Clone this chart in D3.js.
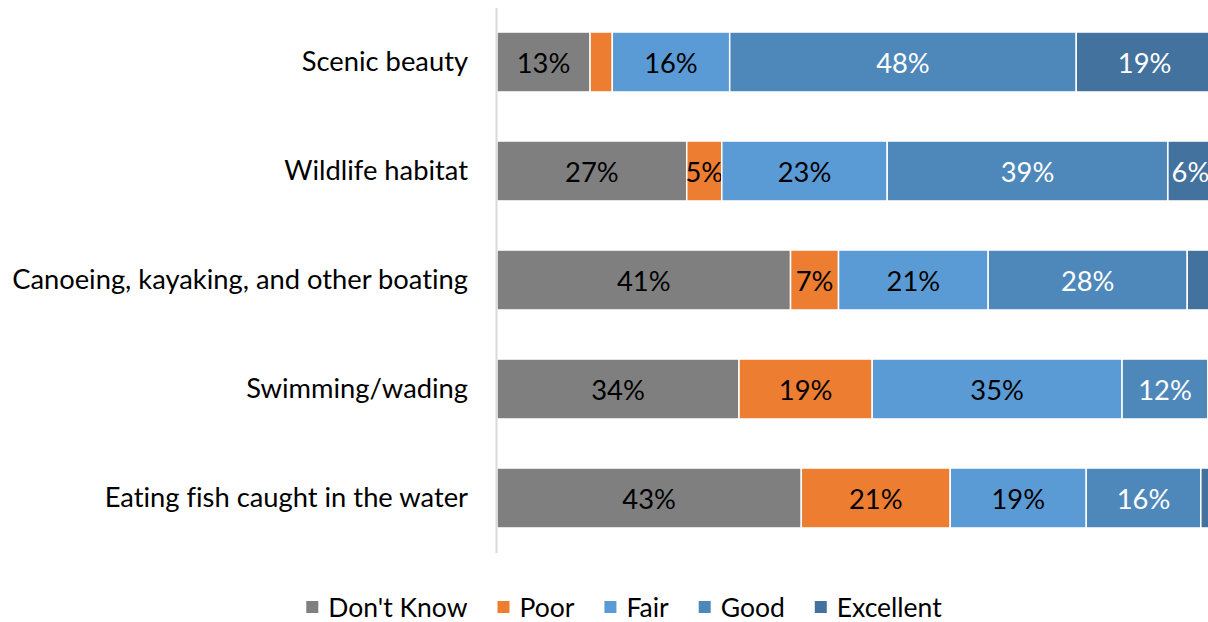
<!DOCTYPE html>
<html><head><meta charset="utf-8">
<script src="https://cdn.jsdelivr.net/npm/d3@7"></script>
<style>body{margin:0;background:#fff;overflow:hidden} text{font-family: Lato, "Open Sans", sans-serif; font-variant-ligatures:none}</style>
</head><body><svg id="c" width="1208" height="622"></svg>
<script>
const categories = ["Scenic beauty","Wildlife habitat","Canoeing, kayaking, and other boating","Swimming/wading","Eating fish caught in the water"];
const seriesNames = ["Don't Know","Poor","Fair","Good","Excellent"];
const dontKnow  = [13.0, 26.5, 41.0, 33.8, 42.5];
const poor      = [3.1, 4.9, 6.7, 18.6, 20.8];
const fair      = [16.4, 23.1, 20.9, 34.9, 19.0];
const good      = [48.4, 39.2, 27.8, 12.0, 16.0];
const excellent = [19.1, 6.3, 3.6, 0.7, 1.7];
const colors = ["#7f7f7f","#ed7d31","#5b9bd5","#4e88bb","#43729e"];
const labelColors = ["#000","#000","#000","#fff","#fff"];

const seriesVals = [dontKnow, poor, fair, good, excellent];
const table = categories.map((c,i)=>{const o={cat:c}; seriesNames.forEach((s,j)=>o[s]=seriesVals[j][i]); return o;});
const stack = d3.stack().keys(seriesNames)(table);

const svg = d3.select("#c");
const x = d3.scaleLinear().domain([0,100]).range([497,1213]);
const y = d3.scaleBand().domain(categories).range([7.5,552.5]).paddingInner(0.45).paddingOuter(0.225);

const probe = svg.append("text").attr("font-size",24).text(categories[2]);
const w24 = probe.node().getComputedTextLength();
probe.remove();
const fs = 24*456/w24;

const g = svg.append("g");
stack.forEach((layer,j)=>{
  const lg = g.append("g");
  lg.selectAll("rect").data(layer).join("rect")
    .attr("x",d=>x(d[0])).attr("width",d=>x(d[1])-x(d[0]))
    .attr("y",d=>y(d.data.cat)).attr("height",y.bandwidth())
    .attr("fill",colors[j]).attr("stroke","#fff").attr("stroke-width",1.5);
  lg.selectAll("text").data(layer.filter(d=>d[1]-d[0]>=4)).join("text")
    .attr("x",d=>(x(d[0])+x(d[1]))/2).attr("y",d=>y(d.data.cat)+y.bandwidth()/2)
    .attr("text-anchor","middle").attr("dominant-baseline","central")
    .attr("font-size",fs).attr("fill",labelColors[j])
    .text(d=>Math.round(d[1]-d[0])+"%");
});

const ax = svg.append("g").attr("transform","translate(496,0)")
  .call(d3.axisLeft(y).tickSize(0).tickSizeOuter(0).tickPadding(28));
ax.select(".domain").attr("stroke","#d9d9d9").attr("stroke-width",2);
ax.selectAll("text").attr("font-size",fs).attr("fill","#000").attr("font-family","Lato, 'Open Sans', sans-serif");

const leg = svg.append("g");
let cx = 0;
const lfs = fs*0.97;
seriesNames.forEach((s,j)=>{
  const it = leg.append("g");
  it.append("rect").attr("x",cx).attr("y",-6).attr("width",12).attr("height",12).attr("fill",colors[j]);
  const t = it.append("text").attr("x",cx+22).attr("y",0).attr("dominant-baseline","central").attr("font-size",lfs).attr("fill","#000").text(s);
  cx += 22 + t.node().getComputedTextLength() + 30;
});
const total = cx - 30;
leg.attr("transform",`translate(${624-total/2},607)`);
</script></body></html>
